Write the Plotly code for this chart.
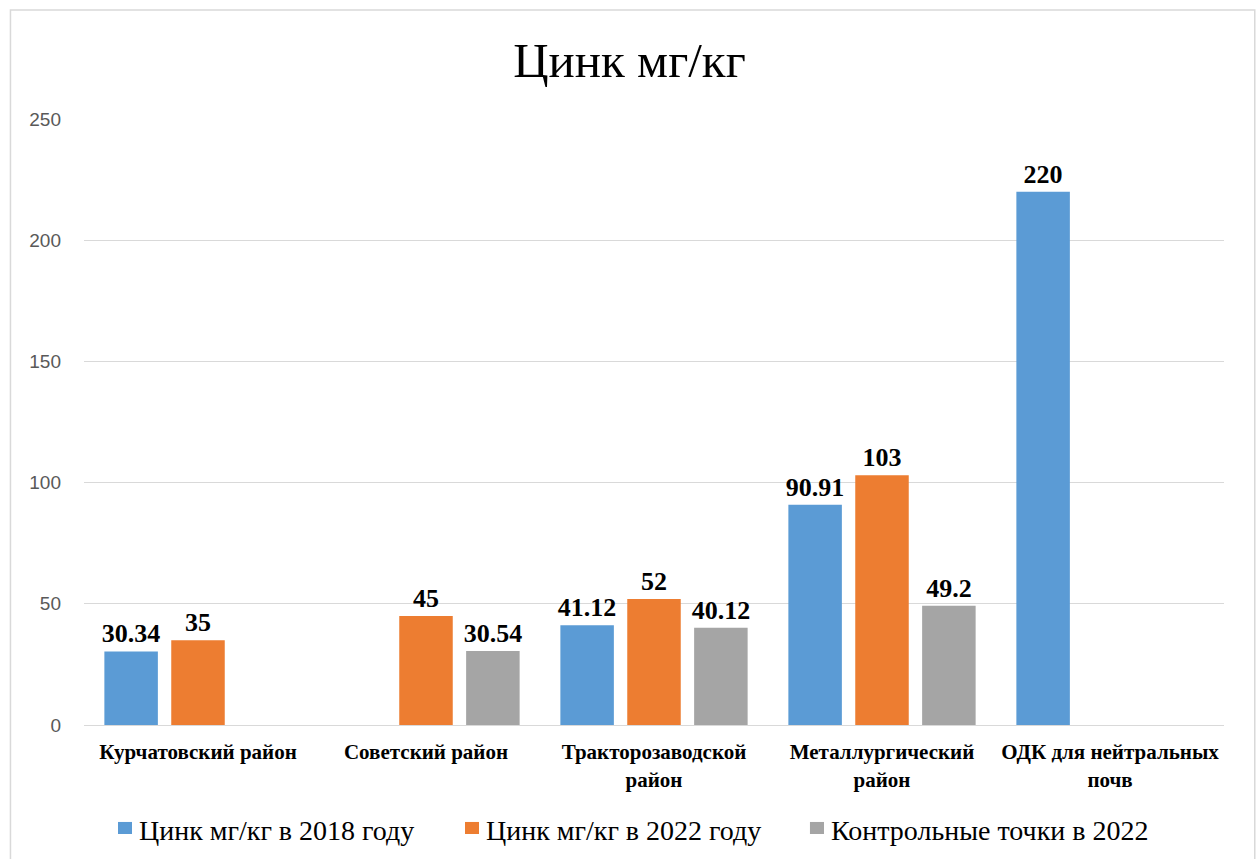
import plotly.graph_objects as go

categories = ["Курчатовский район", "Советский район", "Тракторозаводской<br>район",
              "Металлургический<br>район", "ОДК для нейтральных<br>почв"]
series_names = ["Цинк мг/кг в 2018 году", "Цинк мг/кг в 2022 году", "Контрольные точки в 2022"]
zinc_2018 = [30.34, None, 41.12, 90.91, 220]
zinc_2022 = [35, 45, 52, 103, None]
control_2022 = [None, 30.54, 40.12, 49.2, None]
colors = ["#5B9BD5", "#ED7D31", "#A5A5A5"]
y_ticks = [0, 50, 100, 150, 200, 250]

SERIF = "Times New Roman, Liberation Serif, serif"

def fmt(v):
    if v is None:
        return ""
    return ("%g" % v)

fig = go.Figure()
for name, vals, col in zip(series_names, [zinc_2018, zinc_2022, control_2022], colors):
    fig.add_trace(go.Bar(
        x=categories, y=vals, name=name, showlegend=False,
        marker=dict(color=col, line=dict(width=0)),
        text=[fmt(v) for v in vals], textposition="outside", cliponaxis=False,
        constraintext="none",
        textfont=dict(family=SERIF, size=26, color="black", weight="bold"),
    ))

# Legend drawn as paper-positioned keys + text (layout styling only)
legend_key_x = [0.0298, 0.3342, 0.6368]   # left edges of legend keys (paper fraction)
key_w = 0.0123
shapes = [dict(type="rect", xref="paper", yref="paper",
               x0=-0.0645, x1=1.027, y0=-0.3, y1=1.18,
               line=dict(color="#D9D9D9", width=1.5), fillcolor="rgba(0,0,0,0)", layer="below")]
annotations = []
for name, col, kx in zip(series_names, colors, legend_key_x):
    shapes.append(dict(type="rect", xref="paper", yref="paper",
                       x0=kx, x1=kx + key_w, y0=-0.1799, y1=-0.160,
                       line=dict(width=0), fillcolor=col))
    annotations.append(dict(text=name, xref="paper", yref="paper",
                            x=kx + key_w + 0.005, y=-0.1733, xanchor="left", yanchor="middle",
                            showarrow=False, borderpad=0,
                            font=dict(family=SERIF, size=28, color="black")))

fig.update_layout(
    template="none",
    width=1259, height=859,
    font=dict(family=SERIF, color="black"),
    margin=dict(l=84, r=35, t=119, b=134, autoexpand=False),
    paper_bgcolor="white", plot_bgcolor="white",
    barmode="group", bargap=0.12, bargroupgap=0.2,
    showlegend=False,
    title=dict(text="Цинк мг/кг", x=0.5, xanchor="center", y=0.93, yanchor="middle",
               font=dict(family=SERIF, size=49, color="black")),
    yaxis=dict(range=[0, 250], tickvals=y_ticks, showgrid=True, gridcolor="#D9D9D9", gridwidth=1,
               zeroline=False, showline=False, ticks="", ticklabelstandoff=22, automargin=False,
               tickfont=dict(family="Liberation Sans", size=19, color="#595959")),
    xaxis=dict(showline=True, linecolor="#D9D9D9", linewidth=1, ticks="", automargin=False,
               tickangle=0, ticklabelstandoff=8, showgrid=False,
               tickfont=dict(family=SERIF, size=21, color="black", weight="bold")),
    shapes=shapes,
    annotations=annotations,
)

fig.write_html("out.html")
